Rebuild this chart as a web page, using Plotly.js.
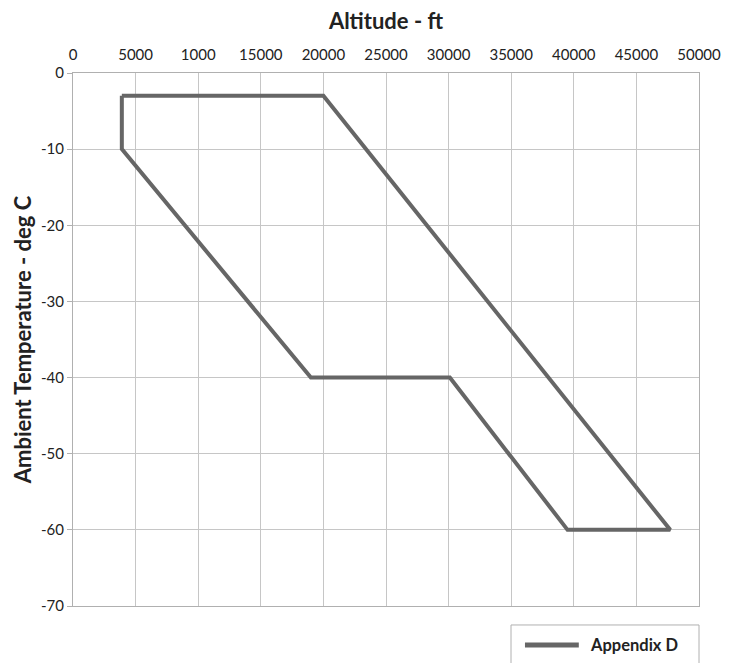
<!DOCTYPE html>
<html>
<head>
<meta charset="utf-8">
<script src="https://cdn.plot.ly/plotly-3.0.1.min.js"></script>
<style>html,body{margin:0;padding:0;background:#fff;}#chart{width:731px;height:663px;}</style>
</head>
<body>
<div id="chart"></div>
<script>
// Envelope outline (altitude ft, temperature deg C), closed polygon
const altitude = [3900, 20000, 47700, 39500, 30100, 19000, 3900, 3900];
const temperature = [-3, -3, -60, -60, -40, -40, -10, -3];
const seriesName = 'Appendix D';

const xTickVals = [0, 5000, 10000, 15000, 20000, 25000, 30000, 35000, 40000, 45000, 50000];
const xTickText = ['0', '5000', '1000', '15000', '20000', '25000', '30000', '35000', '40000', '45000', '50000'];
const yTickVals = [0, -10, -20, -30, -40, -50, -60, -70];
const yTickText = ['0', '-10', '-20', '-30', '-40', '-50', '-60', '-70'];

const FONT = 'Lato, "Open Sans", sans-serif';
const LINE_COLOR = '#666666';
const FRAME = '#b0b0b0';

const trace = {
  x: altitude, y: temperature, type: 'scatter', mode: 'lines', name: seriesName,
  line: {color: LINE_COLOR, width: 4}, showlegend: false
};

const layout = {
  width: 731, height: 663,
  margin: {l: 73, r: 32, t: 73, b: 57},
  paper_bgcolor: '#ffffff', plot_bgcolor: '#ffffff',
  font: {family: FONT, size: 15, color: '#222'},
  title: {text: '<b>Altitude - ft</b>', font: {family: FONT, size: 22, color: '#222'}, x: 0.528, xanchor: 'center', y: 0.968, yanchor: 'middle'},
  xaxis: {
    side: 'top', range: [0, 50000], tickvals: xTickVals, ticktext: xTickText, tickangle: 0,
    showgrid: true, gridcolor: '#c6c6c6', gridwidth: 1,
    showline: true, linecolor: FRAME, linewidth: 1, mirror: true,
    ticks: 'outside', ticklen: 6, tickcolor: 'rgba(0,0,0,0)', automargin: false,
    zeroline: false, tickfont: {family: FONT, size: 15, color: '#222'}, fixedrange: true
  },
  yaxis: {
    range: [-70, 0], tickvals: yTickVals, ticktext: yTickText,
    showgrid: true, gridcolor: '#c6c6c6', gridwidth: 1,
    showline: true, linecolor: FRAME, linewidth: 1, mirror: true,
    ticks: 'outside', ticklen: 5, tickcolor: FRAME, automargin: false,
    zeroline: false, tickfont: {family: FONT, size: 15, color: '#222'},
    title: {text: '<b>Ambient Temperature - deg C</b>', font: {family: FONT, size: 22, color: '#222'}, standoff: 3},
    fixedrange: true
  },
  showlegend: false,
  shapes: [
    {type: 'rect', xref: 'paper', yref: 'paper', x0: 0.6997, x1: 1.0, y0: -0.0356, y1: -0.2,
     line: {color: FRAME, width: 1}, fillcolor: 'rgba(0,0,0,0)', layer: 'below'},
    {type: 'line', xref: 'paper', yref: 'paper', x0: 0.722, x1: 0.808, y0: -0.0732, y1: -0.0732,
     line: {color: LINE_COLOR, width: 5}}
  ],
  annotations: [
    {xref: 'paper', yref: 'paper', x: 0.823, y: -0.0732, xanchor: 'left', yanchor: 'middle',
     text: '<b>' + seriesName + '</b>', showarrow: false, font: {family: FONT, size: 16.5, color: '#222'}}
  ]
};

Plotly.newPlot('chart', [trace], layout, {displayModeBar: false, staticPlot: true});
</script>
</body>
</html>
